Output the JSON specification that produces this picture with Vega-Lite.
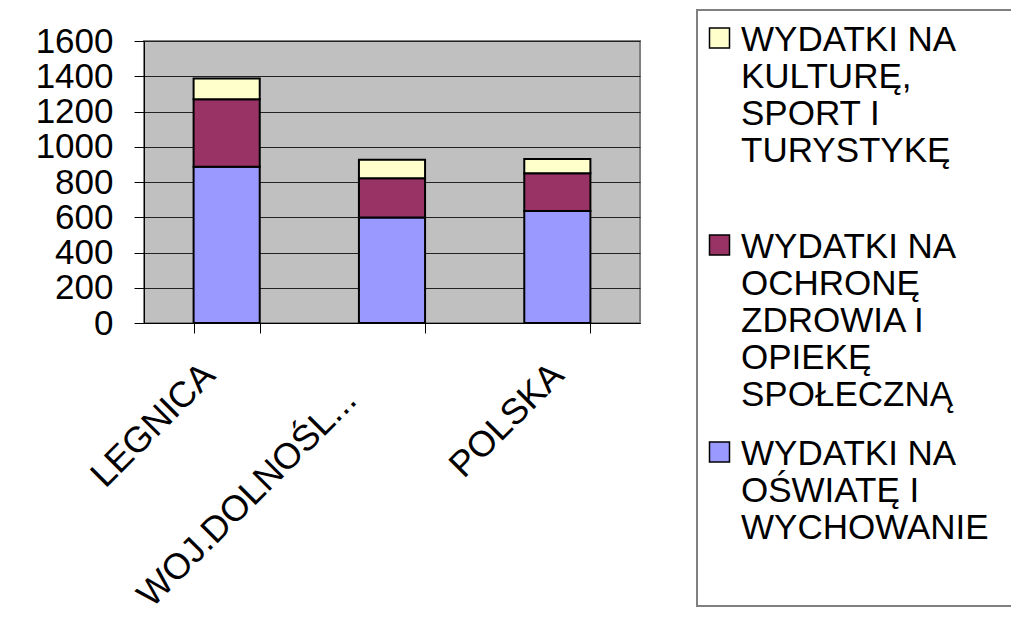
{
  "$schema": "https://vega.github.io/schema/vega-lite/v6.json",
  "width": 496,
  "height": 282,
  "autosize": {"type": "none"},
  "padding": {"left": 144, "top": 41, "right": 371, "bottom": 316},
  "background": "white",
  "data": {
    "values": [
      {"region": "LEGNICA", "seria": "WYDATKI NA OŚWIATĘ I WYCHOWANIE", "wartosc": 887},
      {"region": "LEGNICA", "seria": "WYDATKI NA OCHRONĘ ZDROWIA I OPIEKĘ SPOŁECZNĄ", "wartosc": 383},
      {"region": "LEGNICA", "seria": "WYDATKI NA KULTURĘ, SPORT I TURYSTYKĘ", "wartosc": 117},
      {"region": "WOJ.DOLNOŚL...", "seria": "WYDATKI NA OŚWIATĘ I WYCHOWANIE", "wartosc": 598},
      {"region": "WOJ.DOLNOŚL...", "seria": "WYDATKI NA OCHRONĘ ZDROWIA I OPIEKĘ SPOŁECZNĄ", "wartosc": 223},
      {"region": "WOJ.DOLNOŚL...", "seria": "WYDATKI NA KULTURĘ, SPORT I TURYSTYKĘ", "wartosc": 105},
      {"region": "POLSKA", "seria": "WYDATKI NA OŚWIATĘ I WYCHOWANIE", "wartosc": 636},
      {"region": "POLSKA", "seria": "WYDATKI NA OCHRONĘ ZDROWIA I OPIEKĘ SPOŁECZNĄ", "wartosc": 213},
      {"region": "POLSKA", "seria": "WYDATKI NA KULTURĘ, SPORT I TURYSTYKĘ", "wartosc": 81}
    ]
  },
  "mark": {"type": "bar", "stroke": "black", "strokeWidth": 2},
  "encoding": {
    "x": {
      "field": "region",
      "type": "nominal",
      "sort": ["LEGNICA", "WOJ.DOLNOŚL...", "POLSKA"],
      "scale": {"paddingInner": 0.6, "paddingOuter": 0.3},
      "axis": {
        "title": null,
        "labelAngle": -45,
        "labelAlign": "right",
        "labelBaseline": "middle",
        "labelFontSize": 36,
        "labelPadding": {"condition": {"test": "datum.value == 'WOJ.DOLNOŚL...'", "value": 61}, "value": 36},
        "labelOffset": {"condition": [{"test": "datum.value == 'WOJ.DOLNOŚL...'", "value": -42}, {"test": "datum.value == 'POLSKA'", "value": 0}], "value": -18},
        "tickBand": "extent",
        "tickSize": 10,
        "tickColor": "black",
        "domainColor": "black",
        "labelColor": "black",
        "labelFont": "Liberation Sans",
        "labelLimit": 400
      }
    },
    "y": {
      "field": "wartosc",
      "type": "quantitative",
      "stack": "zero",
      "scale": {"domain": [0, 1600], "nice": false},
      "axis": {
        "title": null,
        "format": "d",
        "values": [0, 200, 400, 600, 800, 1000, 1200, 1400, 1600],
        "labelFontSize": 35,
        "labelPadding": 21,
        "labelFont": "Liberation Sans",
        "labelColor": "black",
        "tickSize": 10,
        "tickColor": "black",
        "domainColor": "black",
        "grid": true,
        "gridColor": "#222222",
        "gridWidth": 1
      }
    },
    "color": {
      "field": "seria",
      "type": "nominal",
      "scale": {
        "domain": [
          "WYDATKI NA KULTURĘ, SPORT I TURYSTYKĘ",
          "WYDATKI NA OCHRONĘ ZDROWIA I OPIEKĘ SPOŁECZNĄ",
          "WYDATKI NA OŚWIATĘ I WYCHOWANIE"
        ],
        "range": ["#FFFFCC", "#993366", "#9999FF"]
      },
      "legend": {
        "title": null,
        "orient": "none",
        "legendX": 553,
        "legendY": -31,
        "padding": 23,
        "strokeColor": "#808080",
        "symbolType": "M-2.8,-2.25L-0.8,-2.25L-0.8,-0.25L-2.8,-0.25Z",
        "symbolSize": 400,
        "symbolStrokeColor": "black",
        "symbolStrokeWidth": 1.5,
        "symbolOpacity": 1,
        "symbolFillOpacity": 1,
        "labelFontSize": 35,
        "labelFont": "Liberation Sans",
        "labelColor": "black",
        "labelOffset": -14,
        "labelLimit": 600,
        "labelBaseline": "alphabetic",
        "rowPadding": 23,
        "gridAlign": "all",
        "labelExpr": "datum.label == 'WYDATKI NA KULTURĘ, SPORT I TURYSTYKĘ' ? ['WYDATKI NA', 'KULTURĘ,', 'SPORT I', 'TURYSTYKĘ'] : datum.label == 'WYDATKI NA OCHRONĘ ZDROWIA I OPIEKĘ SPOŁECZNĄ' ? ['WYDATKI NA', 'OCHRONĘ', 'ZDROWIA I', 'OPIEKĘ', 'SPOŁECZNĄ'] : ['WYDATKI NA', 'OŚWIATĘ I', 'WYCHOWANIE', '']"
      }
    },
    "order": {"field": "seria", "sort": "descending"}
  },
  "config": {
    "view": {"fill": "#C0C0C0", "stroke": "#808080", "strokeWidth": 2},
    "legend": {"strokeWidth": 2},
    "text": {"lineHeight": 40}
  }
}
